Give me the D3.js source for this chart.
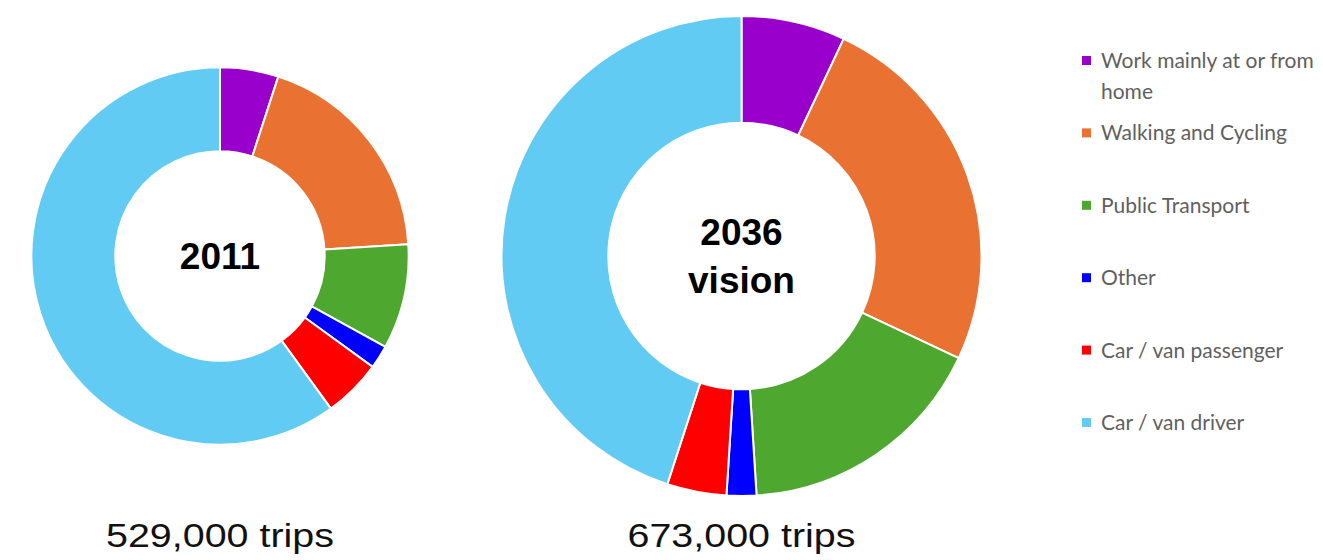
<!DOCTYPE html>
<html>
<head>
<meta charset="utf-8">
<script src="https://cdn.jsdelivr.net/npm/d3@7"></script>
<style>
  html, body { margin: 0; padding: 0; background: #fff; }
  svg { display: block; }
</style>
</head>
<body>
<svg id="chart" width="1323" height="560"></svg>
<script>
// Travel to work mode share, percent of trips
const categories = [
  "Work mainly at or from home",
  "Walking and Cycling",
  "Public Transport",
  "Other",
  "Car / van passenger",
  "Car / van driver"
];
const colors = ["#9A00CC", "#E97132", "#4EA72E", "#0000FF", "#FF0000", "#61CBF3"];

const years = ["2011", "2036 vision"];
const shares2011 = [5, 19, 9, 2, 5, 60];
const shares2036 = [7, 25, 17, 2, 4, 45];
const totalTrips = [529000, 673000];
const tripLabels = ["529,000 trips", "673,000 trips"];

const svg = d3.select("#chart");

// Donut size follows the total number of trips
const rScale = d3.scaleLinear().domain([0, 673000]).range([0, 240]);
const innerRatio = 0.555;
const centersX = [220, 741.5];
const centerY = 256;

const color = d3.scaleOrdinal().domain(categories).range(colors);
const pie = d3.pie().sort(null).value(d => d.value);

[shares2011, shares2036].forEach((shares, k) => {
  const R = rScale(totalTrips[k]);
  const arc = d3.arc().outerRadius(R).innerRadius(R * innerRatio);
  const data = categories.map((c, i) => ({ name: c, value: shares[i] }));
  const g = svg.append("g").attr("transform", `translate(${centersX[k]},${centerY})`);

  g.selectAll("path")
    .data(pie(data))
    .join("path")
    .attr("d", arc)
    .attr("fill", d => color(d.data.name))
    .attr("stroke", "#fff")
    .attr("stroke-width", 2)
    .attr("stroke-linejoin", "round");

  // Centre title
  const lines = years[k].split(" ");
  const lh = 48;
  const t = g.append("text")
    .attr("text-anchor", "middle")
    .attr("font-family", "Arial, 'Liberation Sans', sans-serif")
    .attr("font-weight", "bold")
    .attr("font-size", 37)
    .attr("fill", "#000");
  lines.forEach((ln, j) => {
    t.append("tspan")
      .attr("x", 0)
      .attr("y", 13 - (lines.length - 1) * lh / 2 + j * lh)
      .text(ln);
  });

  // Trip total below the donut
  svg.append("text")
    .attr("x", centersX[k])
    .attr("y", 547)
    .attr("text-anchor", "middle")
    .attr("font-family", "Arial, 'Liberation Sans', sans-serif")
    .attr("font-size", 34)
    .attr("fill", "#111")
    .attr("textLength", 228)
    .attr("lengthAdjust", "spacingAndGlyphs")
    .text(tripLabels[k]);
});

// Legend
const legend = svg.append("g").attr("transform", "translate(1082,0)");
const rowY0 = 60.5, rowStep = 72.4, maxTextW = 240;
categories.forEach((c, i) => {
  const y = rowY0 + i * rowStep;
  legend.append("rect")
    .attr("x", 0).attr("y", y - 4.5)
    .attr("width", 9).attr("height", 9)
    .attr("fill", color(c));
  const txt = legend.append("text")
    .attr("font-family", "Lato, 'Open Sans', sans-serif")
    .attr("font-size", 21)
    .attr("fill", "#5f5f5f");
  // simple word wrap
  const words = c.split(" ");
  let line = [], lineNo = 0;
  let tspan = txt.append("tspan").attr("x", 19).attr("y", y + 7.5);
  words.forEach(w => {
    line.push(w);
    tspan.text(line.join(" "));
    if (tspan.node().getComputedTextLength() > maxTextW && line.length > 1) {
      line.pop();
      tspan.text(line.join(" "));
      line = [w];
      lineNo++;
      tspan = txt.append("tspan").attr("x", 19).attr("y", y + 7.5 + lineNo * 30.5).text(w);
    }
  });
});
</script>
</body>
</html>
